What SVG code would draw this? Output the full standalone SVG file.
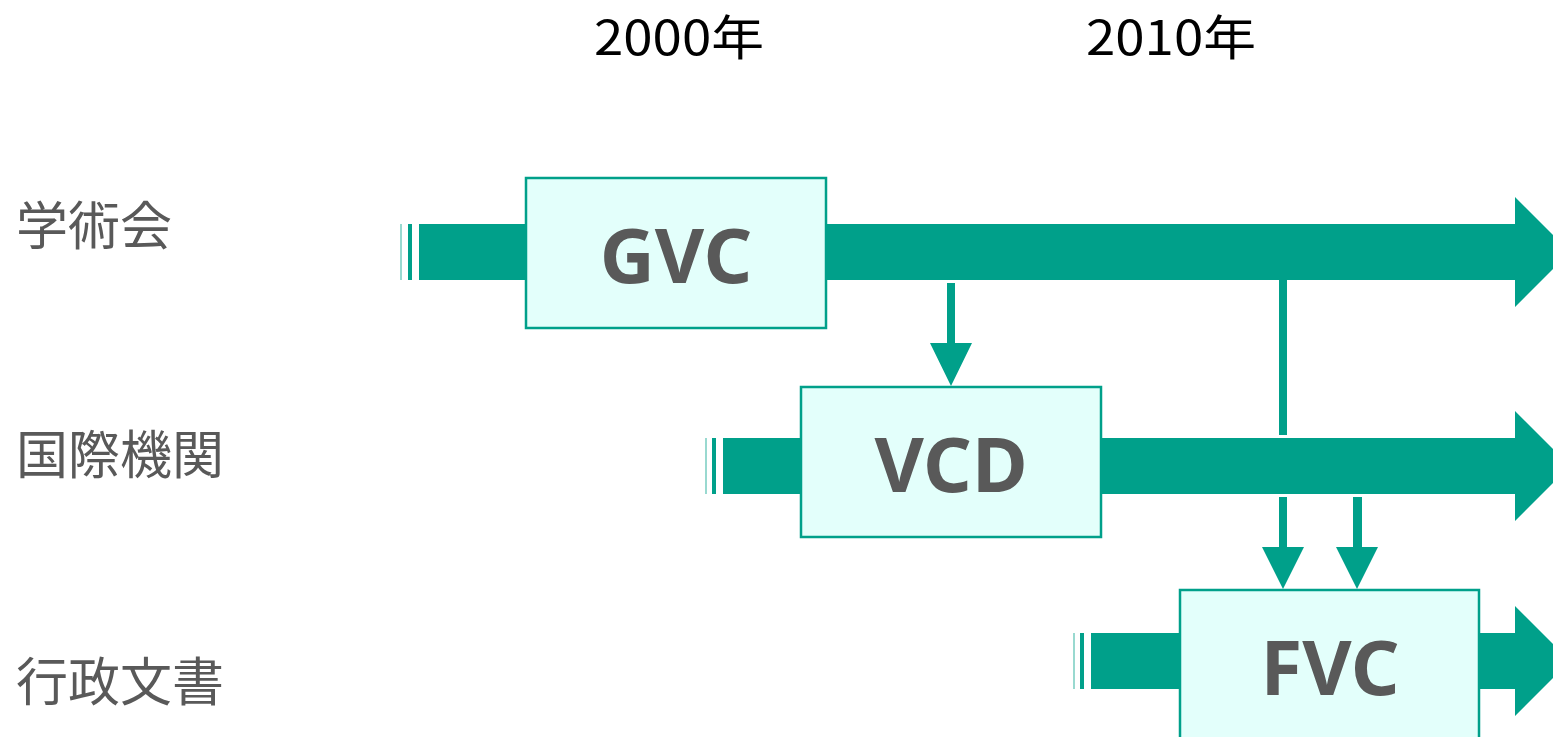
<svg xmlns="http://www.w3.org/2000/svg" width="1553" height="737" viewBox="0 0 1553 737">
<style>
.bar{fill:#00A08A}
.lt{fill:#00A08A;opacity:0.4}
.box{fill:#E3FFFB;stroke:#00A08A;stroke-width:2.5}
.lbl{font-family:"Noto Sans CJK JP","Noto Sans",sans-serif;font-size:52px;fill:#595959}
.yr{font-family:"Noto Sans CJK JP","Noto Sans",sans-serif;font-size:48px;fill:#000}
.bx{font-family:"Noto Sans","DejaVu Sans",sans-serif;font-weight:bold;font-size:76px;fill:#595959;text-anchor:middle}
</style>
<rect width="1553" height="737" fill="#fff"/>
<g id="years">
<text class="yr" x="594" y="55" textLength="170" lengthAdjust="spacingAndGlyphs">2000年</text>
<text class="yr" x="1086" y="55" textLength="170" lengthAdjust="spacingAndGlyphs">2010年</text>
</g>
<g id="rowlabels">
<text class="lbl" x="16" y="245">学術会</text>
<text class="lbl" x="16" y="474">国際機関</text>
<text class="lbl" x="16" y="701">行政文書</text>
</g>
<g id="connectors">
<rect class="lt" x="400" y="224" width="2" height="56"/>
<rect class="bar" x="408" y="224" width="4" height="56"/>
<polygon class="bar" points="419,224 1515,224 1515,197 1570,252 1515,307 1515,280 419,280"/>
<rect class="lt" x="705" y="438" width="2" height="56"/>
<rect class="bar" x="712" y="438" width="4" height="56"/>
<polygon class="bar" points="723,438 1515,438 1515,411 1570,466 1515,521 1515,494 723,494"/>
<rect class="lt" x="1073" y="633" width="2" height="56"/>
<rect class="bar" x="1080" y="633" width="4" height="56"/>
<polygon class="bar" points="1091,633 1515,633 1515,606 1570,661 1515,716 1515,689 1091,689"/>
<polygon class="bar" points="947,283 955,283 955,343 972,343 951,386 930,343 947,343"/>
<rect class="bar" x="1279" y="278" width="8" height="157"/>
<polygon class="bar" points="1279,497 1287,497 1287,547 1304,547 1283,589 1262,547 1279,547"/>
<polygon class="bar" points="1353,497 1362,497 1362,547 1378,547 1357,589 1336,547 1353,547"/>
</g>
<g id="GVC">
<rect class="box" x="526" y="178" width="300" height="150"/>
<text class="bx" x="676" y="283">GVC</text>
</g>
<g id="VCD">
<rect class="box" x="801" y="387" width="300" height="150"/>
<text class="bx" x="951" y="492">VCD</text>
</g>
<g id="FVC">
<rect class="box" x="1180" y="590" width="299" height="160"/>
<text class="bx" x="1330" y="695">FVC</text>
</g>
</svg>
